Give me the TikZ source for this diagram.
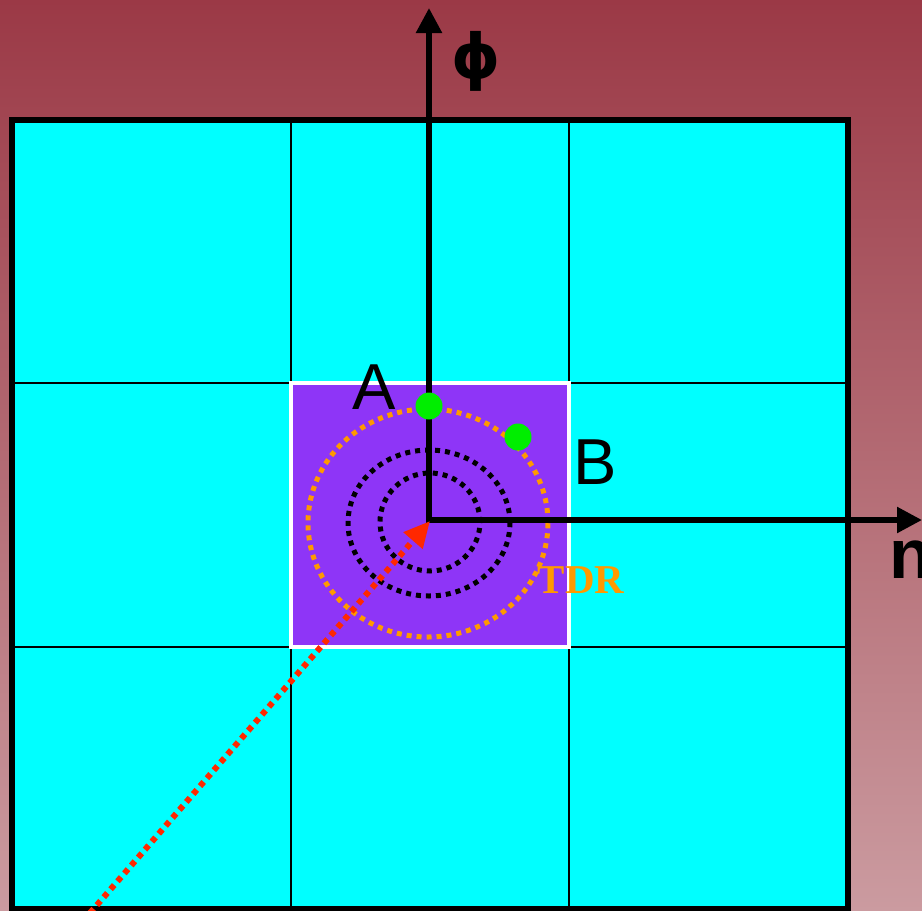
\documentclass[tikz,border=0pt]{standalone}
\usepackage{fontspec}
\setmainfont{Liberation Sans}
\newfontfamily\dejabold{DejaVu Sans}[BoldFont={DejaVu Sans Bold}]
\newfontfamily\timesf{Liberation Serif}
\usetikzlibrary{arrows.meta}
\definecolor{bgtop}{RGB}{155,57,70}
\definecolor{bgbot}{RGB}{203,155,160}
\definecolor{cyanc}{RGB}{0,255,255}
\definecolor{purplec}{RGB}{142,53,247}
\definecolor{greenc}{RGB}{0,238,0}
\definecolor{orangec}{RGB}{255,153,0}
\definecolor{redc}{RGB}{255,40,0}
\tikzset{
  gridline/.style={line width=2.5pt,black},
  axisline/.style={line width=5.5pt,black,-{Triangle[length=25pt,width=25pt]}},
  dotring/.style={line width=5pt,dash pattern=on 5pt off 5pt},
  greendot/.style={circle,fill=greenc,minimum size=27pt,inner sep=0pt},
  letter/.style={inner sep=0pt,font=\fontsize{65}{70}\selectfont},
}
\begin{document}
\begin{tikzpicture}[x=1pt,y=-1pt]
\useasboundingbox (0,0) rectangle (922,911);
\clip (0,0) rectangle (922,911);
% background
\shade[top color=bgtop,bottom color=bgbot] (0,0) rectangle (922,911);
% grid
\fill[cyanc] (12,120) rectangle (848,909);
\draw[gridline] (291,120) -- (291,911);
\draw[gridline] (569,120) -- (569,911);
\draw[gridline] (12,383) -- (848,383);
\draw[gridline] (12,647) -- (848,647);
\draw[line width=5.5pt,black] (12,120) rectangle (848,909);
% purple square
\fill[purplec] (291,383) rectangle (569,647);
\draw[line width=4.5pt,white] (291,383) rectangle (569,647);
% circles
\coordinate (O) at (429,520);
\draw[dotring,orangec] (428,523) ellipse [x radius=120pt,y radius=114pt];
\draw[dotring,black] (429,523) ellipse [x radius=81pt,y radius=73pt];
\draw[dotring,black] (430,522) ellipse [x radius=50pt,y radius=49pt];
% axes
\coordinate (Ytip) at (429,8);
\coordinate (Xtip) at (922,520);
\coordinate (Ostart) at (426,520);
\draw[axisline] (O) -- (Ytip);
\draw[axisline] (Ostart) -- (Xtip);
% red arrow
\coordinate (R0) at (90,913);
\coordinate (R1) at (430,521);
\draw[redc,line width=6pt,dash pattern=on 5.5pt off 5pt,-{Triangle[length=26pt,width=24pt]}] (R0) -- (R1);
% green dots
\node[greendot] (dA) at (429,406) {};
\node[greendot] (dB) at (518,437) {};
% labels
\node[letter] (lA) at (374,387) {A};
\node[letter] (lB) at (595,462) {B};
\node[inner sep=0pt,font=\timesf\bfseries\fontsize{41}{44}\selectfont,text=orangec] (lT) at (581,580) {TDR};
\node[inner sep=0pt,font=\dejabold\bfseries\fontsize{62}{66}\selectfont,anchor=base] (lphi) at (476,78) {ϕ};
\node[inner sep=0pt,font=\bfseries\fontsize{70}{74}\selectfont,anchor=base west] (ln) at (889,578) {n};
\end{tikzpicture}
\end{document}
